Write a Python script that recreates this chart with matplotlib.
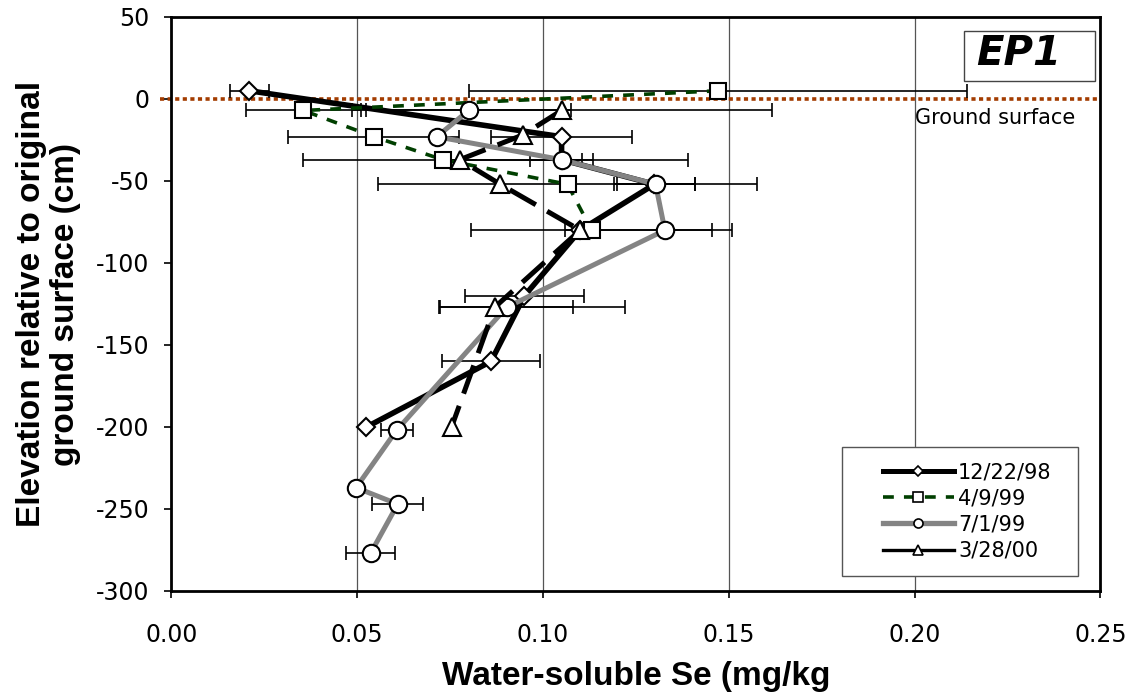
import numpy as np
import matplotlib
matplotlib.use("Agg")
import matplotlib.pyplot as plt
from matplotlib.lines import Line2D
from matplotlib.patches import Rectangle

# elevation (cm) and water-soluble Se (mg/kg) with +/- error, per sampling date
depth_1222 = [5, -23, -37, -52, -80, -120, -160, -200]
se_1222 = [0.021, 0.105, 0.105, 0.130, 0.110, 0.095, 0.086, 0.0525]
err_1222 = [0.0053, 0.019, 0.0085, 0.011, 0.004, 0.016, 0.0133, 0.0]

depth_0409 = [5, -7, -23, -37, -52, -80]
se_0409 = [0.147, 0.0355, 0.0545, 0.073, 0.1066, 0.1131]
err_0409 = [0.067, 0.0155, 0.023, 0.0375, 0.051, 0.0324]

depth_0701 = [-7, -23, -37, -52, -80, -127, -202, -237, -247, -277]
se_0701 = [0.080, 0.0714, 0.105, 0.1303, 0.1328, 0.0902, 0.0606, 0.0497, 0.0609, 0.0536]
err_0701 = [0.0275, 0.0, 0.034, 0.0105, 0.018, 0.018, 0.0043, 0.0, 0.0069, 0.0066]

depth_0328 = [-7, -22, -37, -52, -80, -127, -200]
se_0328 = [0.105, 0.0945, 0.0776, 0.0885, 0.110, 0.087, 0.0754]
err_lo_0328 = [0.0565, 0.0, 0.0, 0.0, 0.0, 0.015, 0.0]
err_hi_0328 = [0.0565, 0.0, 0.0, 0.0, 0.0, 0.035, 0.0]

dates = ["12/22/98", "4/9/99", "7/1/99", "3/28/00"]
x_ticks = [0.00, 0.05, 0.10, 0.15, 0.20, 0.25]
y_ticks = [50, 0, -50, -100, -150, -200, -250, -300]

GREEN = "#003f00"
GRAY = "#848484"
BROWN = "#a33c00"

plt.rcParams["axes.unicode_minus"] = False
plt.rcParams["font.family"] = "DejaVu Sans"


def draw_err(ax, x, y, lo, hi):
    x, y, lo, hi = map(np.asarray, (x, y, lo, hi))
    m = (lo > 0) | (hi > 0)
    ax.errorbar(x[m], y[m], xerr=[lo[m], hi[m]], fmt="none", ecolor="black",
                elinewidth=1.2, capsize=4.7, capthick=1.2, zorder=3)


def main():
    fig = plt.figure(figsize=(11.36, 6.98), dpi=100)
    ax = fig.add_axes([171.4 / 1136, 1 - 591 / 698, 929 / 1136, 574 / 698])

    ax.set_xlim(0, 0.25)
    ax.set_ylim(-300, 50)
    ax.set_xticks(x_ticks)
    ax.set_xticklabels(["%.2f" % v for v in x_ticks])
    ax.set_yticks(y_ticks)
    ax.tick_params(axis="both", labelsize=17, length=5, width=1.2, direction="out")
    ax.tick_params(axis="x", pad=18)
    ax.tick_params(axis="y", pad=11)
    for s in ax.spines.values():
        s.set_linewidth(2)
    ax.grid(axis="x", color="#555555", lw=0.9, zorder=0)
    ax.set_axisbelow(True)

    # ground surface
    ax.axhline(0, xmin=-0.012, color=BROWN, lw=2.6, ls=(0, (1.15, 0.95)),
               zorder=2, clip_on=False)
    ax.text(0.8003, 0.824, "Ground surface", transform=ax.transAxes,
            ha="left", va="center", fontsize=15)

    draw_err(ax, se_1222, depth_1222, err_1222, err_1222)
    draw_err(ax, se_0409, depth_0409, err_0409, err_0409)
    draw_err(ax, se_0701, depth_0701, err_0701, err_0701)
    draw_err(ax, se_0328, depth_0328, err_lo_0328, err_hi_0328)

    mk = dict(markerfacecolor="white", markeredgecolor="black", markeredgewidth=1.5)
    ax.plot(se_1222, depth_1222, color="black", lw=4, marker="D", ms=9, zorder=4, **mk)
    ax.plot(se_0409, depth_0409, color=GREEN, lw=2.6, ls=(0, (3.0, 2.8)),
            marker="s", ms=12, zorder=4.1, **mk)
    ax.plot(se_0701, depth_0701, color=GRAY, lw=3.6, marker="o", ms=12.5, zorder=4.2, **mk)
    ax.plot(se_0328, depth_0328, color="black", lw=3.6, ls=(0, (6, 2.6)),
            marker="^", ms=13, zorder=4.3, **mk)

    # legend
    small = dict(markerfacecolor="white", markeredgecolor="black", markeredgewidth=1.2)
    handles = [
        Line2D([], [], color="black", lw=3.6, marker="D", ms=5, **small),
        Line2D([], [], color=GREEN, lw=2.6, ls=(0, (3.0, 2.8)), marker="s", ms=6.5, **small),
        Line2D([], [], color=GRAY, lw=3.8, marker="o", ms=6.5, **small),
        Line2D([], [], color="black", lw=2.4, marker="^", ms=7.5, **small),
    ]
    lx0, ly0, lw_, lh = 0.7215, 0.026, 0.2545, 0.225
    ax.add_patch(Rectangle((lx0, ly0), lw_, lh, transform=ax.transAxes,
                           facecolor="white", edgecolor="#555555", lw=1.0, zorder=6))
    leg = ax.legend(handles, dates, loc="center", bbox_to_anchor=(lx0 + 0.008, ly0, lw_, lh),
                    frameon=False, fontsize=15, handlelength=3.4, handletextpad=0.2,
                    labelspacing=0.3, borderpad=0.2)
    leg.set_zorder(7)

    # site label
    ax.add_patch(Rectangle((0.853, 0.8885), 0.141, 0.087, transform=ax.transAxes,
                           facecolor="white", edgecolor="#444444", lw=1.0, zorder=6))
    ax.text(0.912, 0.936, "EP1", transform=ax.transAxes, ha="center", va="center",
            fontsize=29, fontweight="bold", fontstyle="italic", zorder=7)

    ax.set_xlabel("Water-soluble Se (mg/kg", fontsize=24, fontweight="bold",
                  family="Liberation Sans")
    ax.xaxis.label.set_va("center")
    ax.xaxis.set_label_coords(0.5, (591 - 677) / 574)
    ax.set_ylabel("Elevation relative to original\nground surface (cm)", fontsize=24,
                  fontweight="bold", family="Liberation Sans", linespacing=1.1)
    ax.yaxis.label.set_va("center")
    ax.yaxis.set_label_coords((48.5 - 171.4) / 929, 0.5)

    fig.savefig("out.png", dpi=100)


if __name__ == "__main__":
    main()
